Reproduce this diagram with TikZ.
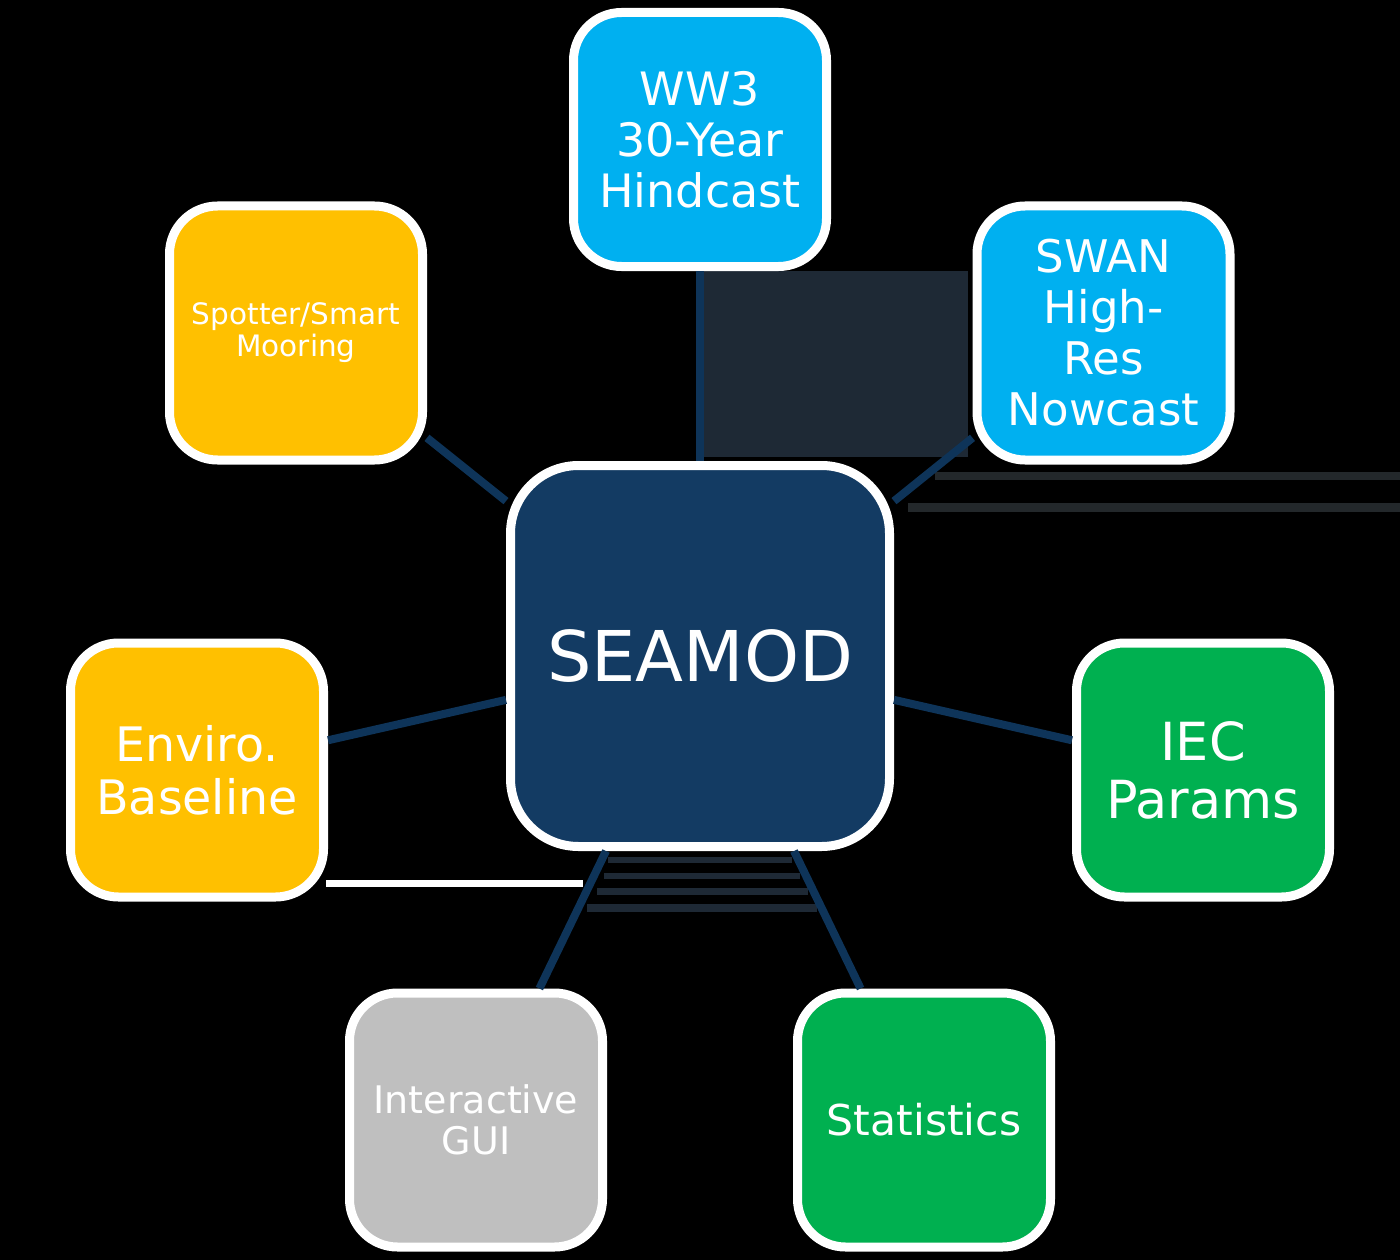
\documentclass[tikz,border=0pt]{standalone}
\usepackage{fontspec}
\setmainfont{DejaVu Sans}
\definecolor{bgdark}{HTML}{1E2935}
\definecolor{bandc}{HTML}{23282B}
\definecolor{navy}{HTML}{133B63}
\definecolor{linkc}{HTML}{0E3459}
\definecolor{skyc}{HTML}{00B0F0}
\definecolor{ambc}{HTML}{FFC000}
\definecolor{grnc}{HTML}{00B050}
\definecolor{gryc}{HTML}{BFBFBF}
\tikzset{
  boxc/.style={draw=white, line width=9pt, rounded corners=48pt, inner sep=0pt,
    minimum width=253pt, minimum height=254pt, align=center, text=white},
  link/.style={draw=linkc, line width=8pt},
}
\begin{document}
\begin{tikzpicture}[x=1pt,y=-1pt]
\fill[black] (0,0) rectangle (1400,1260);
\useasboundingbox (0,0) rectangle (1400,1260);
% background artefacts
\fill[bgdark] (704,271) rectangle (968,457);
\fill[bandc] (935,472) rectangle (1400,480);
\fill[bandc] (908,503) rectangle (1400,512);
\fill[bgdark] (608,857) rectangle (792,863);
\fill[bgdark] (604,873) rectangle (800,879);
\fill[bgdark] (597,888) rectangle (808,895);
\fill[bgdark] (587,904) rectangle (817,912);
\fill[white] (326,880) rectangle (583,887);
% nodes
\node[boxc, fill=navy, minimum width=379pt, minimum height=381pt, rounded corners=68pt,
  font=\fontsize{70pt}{80pt}\selectfont] (sea) at (700,656) {SEAMOD};
\node[boxc, fill=skyc, font=\fontsize{46pt}{51pt}\selectfont] (ww3) at (700,139.5) {WW3\\30-Year\\Hindcast};
\node[boxc, fill=skyc, font=\fontsize{45pt}{51pt}\selectfont] (swan) at (1103.5,333) {SWAN\\High-\\Res\\Nowcast};
\node[boxc, fill=ambc, font=\fontsize{29.5pt}{32pt}\selectfont] (spot) at (296,333) {Spotter/Smart\\Mooring};
\node[boxc, fill=ambc, font=\fontsize{47.5pt}{53pt}\selectfont] (env) at (197,770) {Enviro.\\Baseline};
\node[boxc, fill=grnc, font=\fontsize{52.5pt}{58pt}\selectfont] (iec) at (1203,770) {IEC\\Params};
\node[boxc, fill=gryc, font=\fontsize{38pt}{41pt}\selectfont] (gui) at (476,1120) {Interactive\\GUI};
\node[boxc, fill=grnc, font=\fontsize{42.5pt}{48pt}\selectfont] (stat) at (924,1120) {Statistics};
% connectors
\draw[link] (ww3) -- (sea);
\draw[link] (swan) -- (sea);
\draw[link] (spot) -- (sea);
\draw[link] (env) -- (sea);
\draw[link] (iec) -- (sea);
\draw[link] (gui) -- (sea);
\draw[link] (stat) -- (sea);
\end{tikzpicture}
\end{document}
